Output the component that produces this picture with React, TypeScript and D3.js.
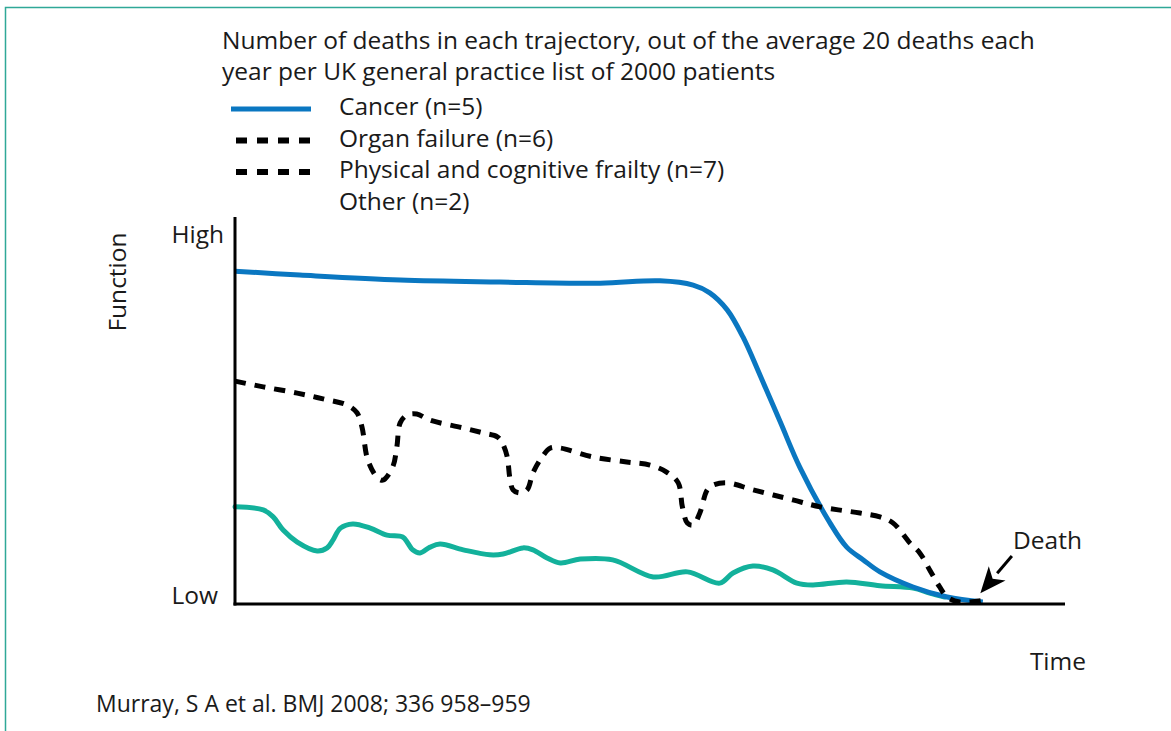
import React from "react";
import * as d3 from "d3";

const titleLines = [
  "Number of deaths in each trajectory, out of the average 20 deaths each",
  "year per UK general practice list of 2000 patients",
];
const legendLabels = ["Cancer (n=5)", "Organ failure (n=6)", "Physical and cognitive frailty (n=7)", "Other (n=2)"];
const legendStyles = ["blue", "dash", "dash", "none"];

// Cancer trajectory (time 0-100, function 0-100)
const cancerT = [0, 7.8, 19.9, 31.9, 44.0, 51.2, 55.2, 57.2, 59.3, 61.2, 63.3, 65.7, 68.1, 71.7, 73.7, 75.7, 77.7, 81.7, 85.8, 90.1];
const cancerF = [86.0, 85.0, 83.7, 83.2, 82.9, 83.5, 82.4, 80.4, 76.0, 69.0, 58.9, 47.0, 35.1, 20.9, 14.7, 11.4, 8.3, 4.4, 1.8, 0.5];

// Organ failure trajectory
const organT = [0, 3.4, 7.5, 10.6, 13.5, 14.7, 15.3, 16.0, 17.1, 17.8, 19.0, 19.5, 19.9, 20.7, 21.9, 23.5, 27.5, 29.9, 31.6, 32.2, 32.8, 33.1, 33.5, 34.3, 35.2, 35.9, 37.0, 38.0, 39.2, 43.1, 47.2, 50.0, 52.0, 53.4, 53.9, 54.5, 55.2, 56.0, 56.9, 57.6, 59.3, 62.4, 67.2, 70.5, 75.3, 77.7, 79.3, 81.3, 82.5, 83.7, 84.9, 85.8, 87.3, 90.4];
const organF = [57.6, 56.1, 54.5, 53.0, 51.4, 49.4, 45.7, 37.2, 32.8, 32.0, 35.4, 40.6, 46.8, 48.8, 49.1, 47.5, 45.5, 44.2, 43.2, 41.6, 38.0, 32.8, 29.5, 28.7, 29.5, 33.9, 38.0, 40.3, 40.3, 38.0, 36.7, 35.9, 34.1, 31.3, 25.1, 20.9, 20.4, 23.5, 29.5, 30.7, 31.3, 29.5, 26.9, 25.1, 23.5, 22.5, 20.9, 15.8, 13.2, 8.8, 4.4, 1.8, 0.5, 1.0];

// Physical and cognitive frailty trajectory
const frailT = [0, 3.4, 4.6, 5.8, 7.5, 9.9, 11.1, 11.8, 12.7, 14.2, 16.3, 18.3, 20.2, 20.8, 21.4, 22.3, 23.5, 24.7, 27.5, 30.7, 32.3, 34.7, 35.9, 37.6, 39.2, 41.6, 45.5, 50.4, 54.5, 58.4, 60.0, 62.4, 64.8, 67.7, 69.6, 73.7, 77.7, 81.7, 83.7, 85.5];
const frailF = [25.1, 24.3, 22.5, 19.1, 16.0, 13.7, 14.5, 16.5, 19.6, 20.7, 19.6, 17.8, 17.3, 15.8, 14.0, 13.2, 14.7, 15.5, 14.0, 12.7, 12.9, 14.5, 14.0, 11.9, 10.6, 11.6, 11.4, 7.0, 8.3, 5.4, 8.0, 9.8, 8.8, 5.4, 4.9, 5.7, 4.7, 4.1, 2.8, 1.8];

// "Death" annotation arrow (from, to) in data units
const arrowT = [93.6, 89.8];
const arrowF = [12.4, 2.8];

const W = 1171;
const H = 731;
const FONT = "'Open Sans', 'Noto Sans', sans-serif";
const FS = 24.5;

export default function App() {
  const x = d3.scaleLinear().domain([0, 100]).range([235, 1065]);
  const y = d3.scaleLinear().domain([0, 100]).range([604, 217]);
  const mk = (ts: number[], fs: number[]) =>
    d3
      .line<number>()
      .x((_, i) => x(ts[i]))
      .y((_, i) => y(fs[i]))
      .curve(d3.curveCatmullRom.alpha(0.5))(ts) as string;

  const blue = "#0a77c1";
  const teal = "#13b19b";

  const ax1 = x(arrowT[0]), ay1 = y(arrowF[0]), ax2 = x(arrowT[1]), ay2 = y(arrowF[1]);
  const ang = Math.atan2(ay2 - ay1, ax2 - ax1);
  const hl = 26, hw = 11;
  const bx = ax2 - hl * Math.cos(ang), by = ay2 - hl * Math.sin(ang);
  const nx = bx + 7 * Math.cos(ang), ny = by + 7 * Math.sin(ang);
  const head = `M${ax2},${ay2} L${bx - hw * Math.sin(ang)},${by + hw * Math.cos(ang)} L${nx},${ny} L${bx + hw * Math.sin(ang)},${by - hw * Math.cos(ang)} Z`;

  return (
    <svg width={W} height={H} style={{ position: "absolute", left: 0, top: 0, background: "#fff" }} fontFamily={FONT}>
      <rect x={5.5} y={7.5} width={W + 20} height={H + 20} fill="none" stroke="#2fa897" strokeWidth={1.5} />
      {titleLines.map((t, i) => (
        <text key={i} x={222} y={49 + i * 31} fontSize={FS} fill="#1a1a1a">{t}</text>
      ))}
      {legendLabels.map((t, i) => {
        const ly = 115 + i * 31.5;
        return (
          <g key={i}>
            {legendStyles[i] === "blue" && <line x1={231} x2={311} y1={ly - 6} y2={ly - 6} stroke={blue} strokeWidth={5} />}
            {legendStyles[i] === "dash" && <line x1={236} x2={311} y1={ly - 6} y2={ly - 6} stroke="#000" strokeWidth={6} strokeDasharray="11,10" />}
            <text x={339} y={ly} fontSize={FS} fill="#1a1a1a">{t}</text>
          </g>
        );
      })}
      <path d={mk(frailT, frailF)} fill="none" stroke={teal} strokeWidth={5} strokeLinecap="round" strokeLinejoin="round" />
      <path d={mk(cancerT, cancerF)} fill="none" stroke={blue} strokeWidth={5} strokeLinejoin="round" />
      <path d={mk(organT, organF)} fill="none" stroke="#000" strokeWidth={5} strokeDasharray="11,9" />
      <line x1={x(0)} x2={x(0)} y1={y(100)} y2={y(0) + 1.5} stroke="#000" strokeWidth={3} />
      <line x1={x(0) - 1.5} x2={x(100)} y1={y(0)} y2={y(0)} stroke="#000" strokeWidth={3} />
      <text x={224} y={243} fontSize={FS} textAnchor="end" fill="#1a1a1a">High</text>
      <text x={218} y={604} fontSize={FS} textAnchor="end" fill="#1a1a1a">Low</text>
      <text transform="translate(126,282) rotate(-90)" fontSize={FS} textAnchor="middle" fill="#1a1a1a">Function</text>
      <text x={1086} y={670} fontSize={FS} textAnchor="end" fill="#1a1a1a">Time</text>
      <text x={1013} y={549} fontSize={FS} fill="#1a1a1a">Death</text>
      <line x1={ax1} y1={ay1} x2={bx} y2={by} stroke="#000" strokeWidth={3} />
      <path d={head} fill="#000" />
      <text x={96} y={712} fontSize={23} fill="#1a1a1a">Murray, S A et al. BMJ 2008; 336 958–959</text>
    </svg>
  );
}
